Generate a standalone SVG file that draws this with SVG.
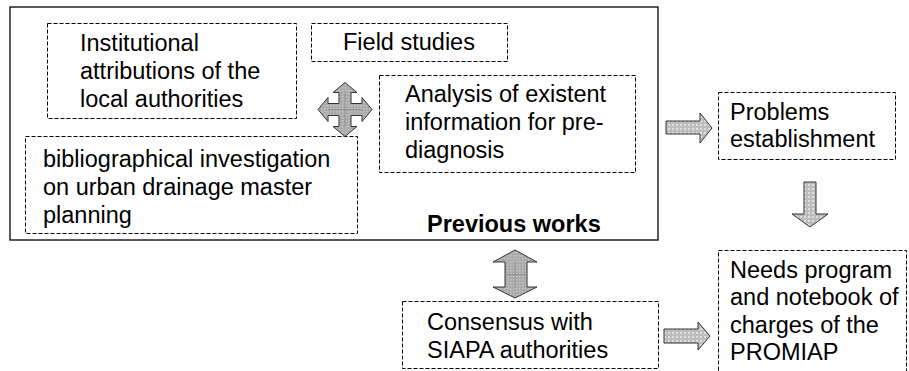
<svg xmlns="http://www.w3.org/2000/svg" width="909" height="371" viewBox="0 0 909 371">
<style>
.t{font-family:"Liberation Sans",Arial,sans-serif;font-size:23.5px;fill:#000}
.b{font-weight:bold}
.d{fill:none;stroke:#000;stroke-width:1;stroke-dasharray:4 2}
.o{fill:none;stroke:#000;stroke-width:1.3}
.a1{fill:url(#p1);stroke:#333;stroke-width:1}
.a2{fill:url(#p2);stroke:#333;stroke-width:1}
.g{stroke:#8a8a8a;stroke-width:0.8;fill:none}
</style>
<defs>
<pattern id="p1" width="4" height="4" patternUnits="userSpaceOnUse">
<rect width="4" height="4" fill="#bcbcbc"/>
<rect x="0" y="0" width="2" height="2" fill="#dedede"/>
</pattern>
<pattern id="p2" width="3" height="3" patternUnits="userSpaceOnUse">
<rect width="3" height="3" fill="#a9a9a9"/>
<rect x="0" y="0" width="1.5" height="1.5" fill="#c6c6c6"/>
</pattern>
</defs>
<rect width="909" height="371" fill="#fff"/>
<g id="previous-works">
<rect class="o" x="10" y="7" width="648" height="233"/>
<text class="t b" x="427" y="232">Previous works</text>
</g>
<g id="institutional">
<rect class="d" x="47.5" y="23.5" width="249" height="95"/>
<text class="t" x="80" y="51">Institutional</text>
<text class="t" x="80" y="79">attributions of the</text>
<text class="t" x="80" y="107">local authorities</text>
</g>
<g id="field-studies">
<rect class="d" x="311.5" y="23.5" width="196" height="38"/>
<text class="t" x="343" y="50">Field studies</text>
</g>
<g id="analysis">
<rect class="d" x="379.5" y="75.5" width="256" height="97"/>
<text class="t" x="405" y="102">Analysis of existent</text>
<text class="t" x="405" y="130">information for pre-</text>
<text class="t" x="405" y="158">diagnosis</text>
</g>
<g id="bibliographical">
<rect class="d" x="25.5" y="136.5" width="332" height="97"/>
<text class="t" x="43" y="167">bibliographical investigation</text>
<text class="t" x="43" y="195">on urban drainage master</text>
<text class="t" x="43" y="223">planning</text>
</g>
<g id="problems">
<rect class="d" x="718.5" y="92.5" width="177" height="67"/>
<text class="t" x="730" y="120">Problems</text>
<text class="t" x="730" y="147">establishment</text>
</g>
<g id="needs">
<rect class="d" x="718.5" y="250.5" width="188" height="130"/>
<text class="t" x="730" y="278">Needs program</text>
<text class="t" x="730" y="305">and notebook of</text>
<text class="t" x="730" y="333">charges of the</text>
<text class="t" x="730" y="360">PROMIAP</text>
</g>
<g id="consensus">
<rect class="d" x="402.5" y="301.5" width="256" height="67"/>
<text class="t" x="427" y="330">Consensus with</text>
<text class="t" x="427" y="358">SIAPA authorities</text>
</g>
<g id="connectors">
<path class="a2" d="M345,82.5 L357,92.5 H351 V103.5 H362 V97.5 L372,109.5 L362,121.5 V115.5 H351 V126.5 H357 L345,136.5 L333,126.5 H339 V115.5 H328 V121.5 L318,109.5 L328,97.5 V103.5 H339 V92.5 H333 Z"/>
<path class="g" d="M345,92.5 V126.5 M328,109.5 H362"/>
<path class="a1" d="M666,121 H700 V113 L712,128 L700,143 V134 H666 Z"/>
<path class="a1" d="M804,182 H816 V214 H828 L810,227 L792,214 H804 Z"/>
<path class="a1" d="M664,329 H698 V322 L710,336 L698,350 V343 H664 Z"/>
<path class="a2" d="M505,262 H493 L515,250 L537,262 H527 V287 H537 L515,298 L493,287 H505 Z"/>
<path class="g" d="M515,262 V287 M505,274.5 H527"/>
</g>
</svg>
